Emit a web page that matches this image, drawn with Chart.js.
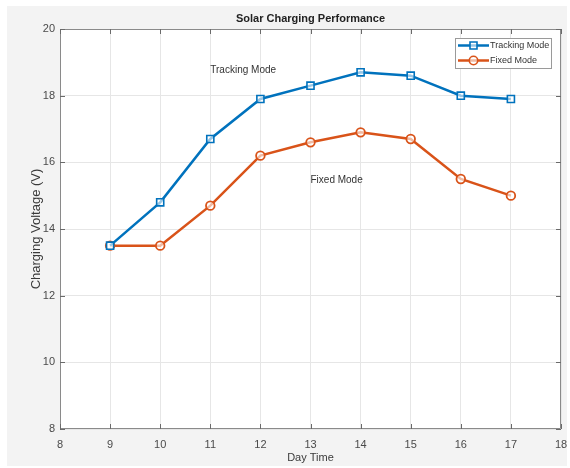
<!DOCTYPE html>
<html>
<head>
<meta charset="utf-8">
<script src="https://cdn.jsdelivr.net/npm/chart.js@4.4.0/dist/chart.umd.min.js"></script>
<style>
html,body{margin:0;padding:0;background:#ffffff;}
#c{display:block;}
</style>
</head>
<body>
<canvas id="c" width="570" height="468"></canvas>
<script>
// ---- data ----
const hours = [9, 10, 11, 12, 13, 14, 15, 16, 17];
const trackingVoltage = [13.5, 14.8, 16.7, 17.9, 18.3, 18.7, 18.6, 18.0, 17.9];
const fixedVoltage = [13.5, 13.5, 14.7, 16.2, 16.6, 16.9, 16.7, 15.5, 15.0];
const seriesNames = ['Tracking Mode', 'Fixed Mode'];
const chartTitle = 'Solar Charging Performance';
const xTitle = 'Day Time';
const yTitle = 'Charging Voltage (V)';
const xRange = [8, 18];
const yRange = [8, 20];
const notes = [
  {text: 'Tracking Mode', x: 11, y: 18.77},
  {text: 'Fixed Mode', x: 13, y: 15.47}
];

const BLUE = '#0072BD';
const ORANGE = '#D95319';
const FONT = '"Liberation Sans", Arial, Helvetica, sans-serif';

const toXY = (xs, ys) => xs.map((x, i) => ({x: x, y: ys[i]}));

const bgPlugin = {
  id: 'bg',
  beforeDraw(chart) {
    const {ctx, chartArea: a} = chart;
    ctx.save();
    ctx.fillStyle = '#ffffff';
    ctx.fillRect(0, 0, chart.width, chart.height);
    ctx.fillStyle = '#f3f3f3';
    ctx.fillRect(7, 6, 560, 460);
    ctx.fillStyle = '#ffffff';
    ctx.fillRect(a.left, a.top, a.right - a.left, a.bottom - a.top);
    ctx.restore();
  },
  beforeDatasetsDraw(chart) {
    const {ctx, chartArea: a, scales} = chart;
    ctx.save();
    ctx.strokeStyle = '#8a8a8a';
    ctx.lineWidth = 1;
    ctx.beginPath();
    ctx.rect(a.left + 0.5, a.top + 0.5, a.right - a.left - 1, a.bottom - a.top - 1);
    ctx.stroke();
    const tl = 5;
    ctx.strokeStyle = '#6a6a6a';
    ctx.beginPath();
    scales.x.ticks.forEach(t => {
      const px = Math.round(scales.x.getPixelForValue(t.value)) + 0.5;
      ctx.moveTo(px, a.bottom); ctx.lineTo(px, a.bottom - tl);
      ctx.moveTo(px, a.top); ctx.lineTo(px, a.top + tl);
    });
    scales.y.ticks.forEach(t => {
      const py = Math.round(scales.y.getPixelForValue(t.value)) + 0.5;
      ctx.moveTo(a.left, py); ctx.lineTo(a.left + tl, py);
      ctx.moveTo(a.right, py); ctx.lineTo(a.right - tl, py);
    });
    ctx.stroke();
    ctx.restore();
  },
  afterDraw(chart) {
    const {ctx, chartArea: a, scales} = chart;
    ctx.save();
    // title
    ctx.fillStyle = '#222222';
    ctx.font = 'bold 11px ' + FONT;
    ctx.textAlign = 'center';
    ctx.textBaseline = 'middle';
    ctx.fillText(chartTitle, (a.left + a.right) / 2, 19);
    // annotations
    ctx.font = '10px ' + FONT;
    ctx.fillStyle = '#333333';
    ctx.textAlign = 'left';
    notes.forEach(n => {
      ctx.fillText(n.text, scales.x.getPixelForValue(n.x), scales.y.getPixelForValue(n.y));
    });
    // legend
    const lx = 455, ly = 38, lw = 96, lh = 30;
    ctx.fillStyle = '#ffffff';
    ctx.fillRect(lx, ly, lw, lh);
    ctx.strokeStyle = '#9a9a9a';
    ctx.lineWidth = 1;
    ctx.strokeRect(lx + 0.5, ly + 0.5, lw, lh);
    const rows = [45.5, 60.5];
    chart.data.datasets.forEach((ds, i) => {
      const y = rows[i];
      ctx.strokeStyle = ds.borderColor;
      ctx.lineWidth = 2.5;
      ctx.beginPath();
      ctx.moveTo(458, y); ctx.lineTo(489, y);
      ctx.stroke();
      ctx.lineWidth = 1.6;
      ctx.fillStyle = 'rgba(255,255,255,0.6)';
      ctx.beginPath();
      if (ds.pointStyle === 'rect') {
        ctx.rect(473.5 - 3.5, y - 3.5, 7, 7);
      } else {
        ctx.arc(473.5, y, 4.2, 0, Math.PI * 2);
      }
      ctx.fill();
      ctx.stroke();
      ctx.fillStyle = '#333333';
      ctx.font = '9px ' + FONT;
      ctx.textAlign = 'left';
      ctx.textBaseline = 'middle';
      ctx.fillText(ds.label, 490, y);
    });
    ctx.restore();
  }
};

new Chart(document.getElementById('c'), {
  type: 'line',
  data: {
    datasets: [
      {
        label: seriesNames[0],
        data: toXY(hours, trackingVoltage),
        borderColor: BLUE,
        backgroundColor: BLUE,
        borderWidth: 2.5,
        pointStyle: 'rect',
        pointRadius: 5,
        pointBorderWidth: 1.6,
        pointBorderColor: BLUE,
        pointBackgroundColor: 'rgba(255,255,255,0.6)',
        tension: 0
      },
      {
        label: seriesNames[1],
        data: toXY(hours, fixedVoltage),
        borderColor: ORANGE,
        backgroundColor: ORANGE,
        borderWidth: 2.5,
        pointStyle: 'circle',
        pointRadius: 4.3,
        pointBorderWidth: 1.8,
        pointBorderColor: ORANGE,
        pointBackgroundColor: 'rgba(255,255,255,0.6)',
        tension: 0
      }
    ]
  },
  options: {
    responsive: false,
    devicePixelRatio: 1,
    animation: false,
    layout: {padding: {left: 0, right: 9, top: 29, bottom: 0}},
    plugins: {
      legend: {display: false},
      title: {display: false},
      tooltip: {enabled: false}
    },
    scales: {
      x: {
        type: 'linear',
        min: xRange[0],
        max: xRange[1],
        ticks: {stepSize: 1, color: '#4a4a4a', font: {family: FONT, size: 11}, padding: 9, maxRotation: 0},
        grid: {color: '#e6e6e6', drawTicks: false},
        border: {display: false},
        title: {display: true, text: xTitle, color: '#3a3a3a', font: {family: FONT, size: 11}, padding: {top: 0, bottom: 3.4}},
        afterFit(s) { s.height = 39; s.paddingLeft = 0; s.paddingRight = 0; }
      },
      y: {
        type: 'linear',
        min: yRange[0],
        max: yRange[1],
        ticks: {stepSize: 2, color: '#4a4a4a', font: {family: FONT, size: 11}, padding: 5},
        grid: {color: '#e6e6e6', drawTicks: false},
        border: {display: false},
        title: {display: true, text: yTitle, color: '#3a3a3a', font: {family: FONT, size: 13}, padding: {top: 28.2, bottom: 0}},
        afterFit(s) { s.width = 60; s.paddingTop = 0; s.paddingBottom = 0; }
      }
    }
  },
  plugins: [bgPlugin]
});
</script>
</body>
</html>
